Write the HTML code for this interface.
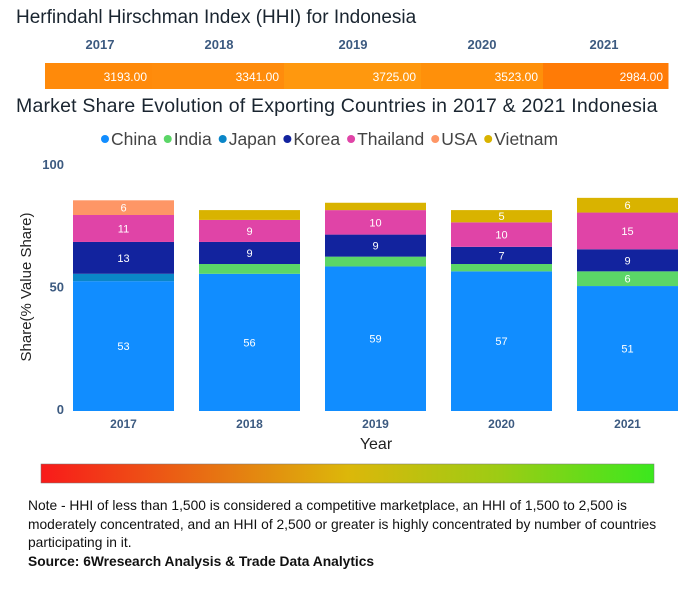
<!DOCTYPE html>
<html><head><meta charset="utf-8"><style>
body{margin:0;background:#fff;font-family:"Liberation Sans",sans-serif;}
#root{position:relative;width:687px;height:600px;overflow:hidden;}
.t{position:absolute;white-space:nowrap;}
</style></head><body><div id="root">
<div class="t" style="left:16px;top:7px;font-size:19px;color:#1a2530;">Herfindahl Hirschman Index (HHI) for Indonesia</div>
<div class="t" style="left:16px;top:95px;font-size:19.5px;color:#1a2530;letter-spacing:0.2px;">Market Share Evolution of Exporting Countries in 2017 &amp; 2021 Indonesia</div>
<svg id="chart" width="687" height="600" style="position:absolute;left:0;top:0">
<defs><linearGradient id="g" x1="0" x2="1"><stop offset="0" stop-color="#f81a1a"/><stop offset="0.3" stop-color="#e67812"/><stop offset="0.5" stop-color="#dcb70a"/><stop offset="0.75" stop-color="#9ccc14"/><stop offset="1" stop-color="#3be81e"/></linearGradient></defs>
<rect x="41" y="464" width="613" height="19" fill="url(#g)" stroke="#777" stroke-width="0.5"/>
<text x="376" y="449" text-anchor="middle" font-size="16" fill="#222">Year</text>
<text transform="translate(31,287) rotate(-90)" text-anchor="middle" font-size="15" fill="#222">Share(% Value Share)</text>
</svg>
<div class="t" style="left:28px;top:497px;font-size:13.8px;line-height:18.5px;color:#111;">Note - HHI of less than 1,500 is considered a competitive marketplace, an HHI of 1,500 to 2,500 is<br>moderately concentrated, and an HHI of 2,500 or greater is highly concentrated by number of countries<br>participating in it.<br><b>Source: 6Wresearch Analysis &amp; Trade Data Analytics</b></div>
</div>
<script>
const years=["2017","2018","2019","2020","2021"];
const hhi=[3193,3341,3725,3523,2984];
const series=["China","India","Japan","Korea","Thailand","USA","Vietnam"];
const colors=["#118dff","#5bd667","#0a86c8","#12239e","#e044a7","#fe9666","#d9b300"];
const china=[53,56,59,57,51];
const india=[0,4,4,3,6];
const japan=[3,0,0,0,0];
const korea=[13,9,9,7,9];
const thailand=[11,9,10,10,15];
const usa=[6,0,0,0,0];
const vietnam=[0,4,3,5,6];
const yTicks=[0,50,100];
const hhiColors=["#ff8a0a","#ff8c0c","#ff980e","#ff900a","#ff7b06"];
const vals=[china,india,japan,korea,thailand,usa,vietnam];
const NS="http://www.w3.org/2000/svg";
const svg=document.getElementById('chart');
const K=2.45;
const y=v=>411-v*K;
const xc=i=>123.5+i*126;
const bw=101;
function mk(tag,attrs,txt){const e=document.createElementNS(NS,tag);for(const k in attrs)e.setAttribute(k,attrs[k]);if(txt!==undefined)e.textContent=txt;svg.appendChild(e);return e;}
// HHI strip layout
const hb=[45,152,284,421,543,668];
const hyx=[100,219,353,482,604];
years.forEach((yr,i)=>{
 const r=mk('rect',{x:hb[i],y:63,width:hb[i+1]-hb[i]+0.5,height:26,fill:hhiColors[i]});
 
 
 const t=mk('text',{x:hb[i+1]-5,y:81,'text-anchor':'end','font-size':12,fill:'#fff'},hhi[i].toFixed(2));
 
 
 const l=mk('text',{x:hyx[i],y:49,'text-anchor':'middle','font-size':13,'font-weight':'bold',fill:'#3c5a80'},yr);
 
 
});
// legend
let lx=105;
series.forEach((s,k)=>{
 const c=mk('circle',{cx:lx,cy:139,r:4,fill:colors[k]});
 
 
 const t=mk('text',{x:lx+6,y:145,'font-size':17.5,fill:'#444'},s);
 
 
 lx+=12+t.getComputedTextLength()+5;
});
yTicks.forEach(v=>{
 const t=mk('text',{x:64,y:y(v)+3,'text-anchor':'end','font-size':13,'font-weight':'bold',fill:'#3c5a80'},v);
 
 
});
years.forEach((yr,i)=>{
 let acc=0;
 vals.forEach((arr,k)=>{
  const v=arr[i]; if(!v)return;
  const r=mk('rect',{x:xc(i)-bw/2,y:y(acc+v),width:bw,height:v*K,fill:colors[k]});
  
  
  if(v>=5){
   const t=mk('text',{x:xc(i),y:y(acc+v/2)+4,'text-anchor':'middle','font-size':11,fill:'#fff'},v);
   
   
  }
  acc+=v;
 });
 const l=mk('text',{x:xc(i),y:428,'text-anchor':'middle','font-size':12,'font-weight':'bold',fill:'#3c5a80'},yr);
 
 
});
</script>
</body></html>
